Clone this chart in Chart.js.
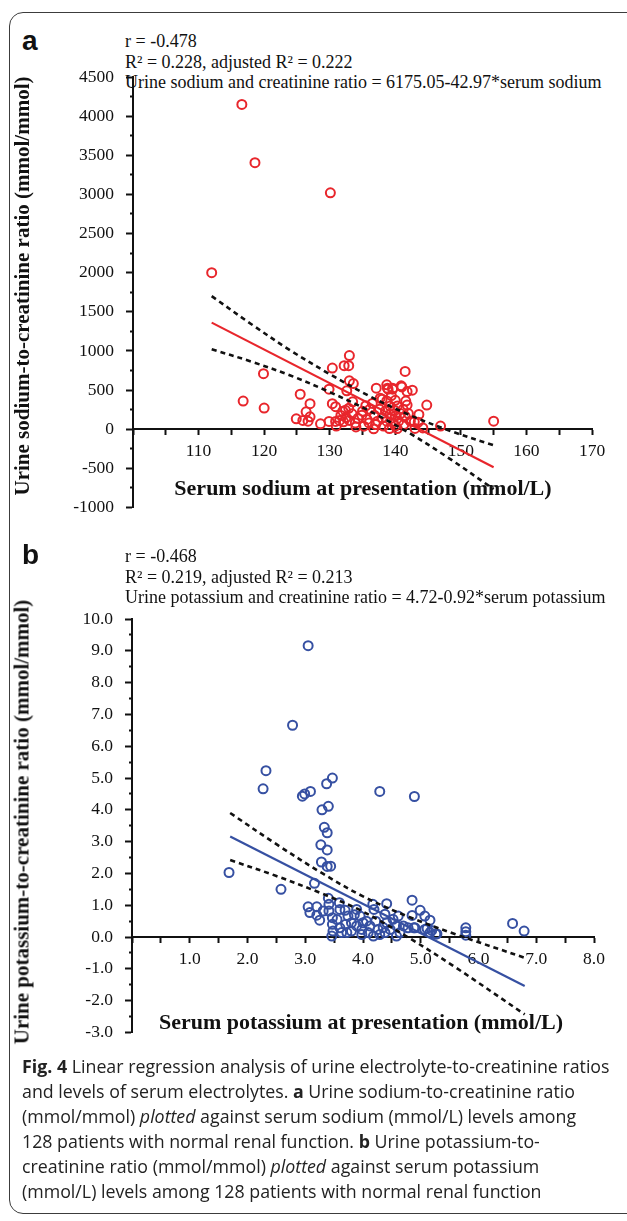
<!DOCTYPE html>
<html>
<head>
<meta charset="utf-8">
<script src="https://cdn.jsdelivr.net/npm/chart.js@4.4.1/dist/chart.umd.min.js"></script>
<style>
body { margin: 0; background: #fff; }
#fig { position: relative; width: 627px; height: 1221px; overflow: hidden; background: #fff; }
.frame { position: absolute; left: 9px; top: 12px; width: 650px; height: 1200px; border: 1.5px solid #3c3c3c; border-radius: 14px; }
.lbl { position: absolute; left: 22px; font: bold 28px "Liberation Sans", Arial, sans-serif; color: #111; }
.stats { position: absolute; left: 125px; font: 18px "Liberation Serif", serif; line-height: 20.5px; color: #111; white-space: nowrap; }
.ytitle { position: absolute; font: bold 21px "Liberation Serif", serif; color: #111; white-space: nowrap; transform: translate(-50%, -50%) rotate(-90deg); }
.xtitle { position: absolute; font: bold 22px "Liberation Serif", serif; color: #111; white-space: nowrap; transform: translate(-50%, -50%); }
canvas { position: absolute; left: 0; }
.caption { position: absolute; left: 22px; top: 1054px; font: 17.8px "Open Sans", sans-serif; line-height: 25px; color: #222; white-space: nowrap; }
</style>
</head>
<body>
<div id="fig">
  <div class="frame"></div>

  <div class="lbl" style="top:25px">a</div>
  <div class="stats" style="top:31px">r = -0.478<br>R² = 0.228, adjusted R² = 0.222<br>Urine sodium and creatinine ratio = 6175.05-42.97*serum sodium</div>
  <canvas id="chartNa" width="627" height="530" style="top:0"></canvas>
  <div class="ytitle" style="left:22px; top:286px">Urine sodium-to-creatinine ratio (mmol/mmol)</div>
  <div class="xtitle" style="left:363px; top:488px">Serum sodium at presentation (mmol/L)</div>

  <div class="lbl" style="top:539px">b</div>
  <div class="stats" style="top:546px">r = -0.468<br>R² = 0.219, adjusted R² = 0.213<br>Urine potassium and creatinine ratio = 4.72-0.92*serum potassium</div>
  <canvas id="chartK" width="627" height="525" style="top:530px"></canvas>
  <div class="ytitle" style="left:22px; top:822px">Urine potassium-to-creatinine ratio (mmol/mmol)</div>
  <div class="xtitle" style="left:361px; top:1022px">Serum potassium at presentation (mmol/L)</div>

  <div class="caption"><b>Fig. 4</b> Linear regression analysis of urine electrolyte-to-creatinine ratios<br>and levels of serum electrolytes. <b>a</b> Urine sodium-to-creatinine ratio<br>(mmol/mmol) <i>plotted</i> against serum sodium (mmol/L) levels among<br>128 patients with normal renal function. <b>b</b> Urine potassium-to-<br>creatinine ratio (mmol/mmol) <i>plotted</i> against serum potassium<br>(mmol/L) levels among 128 patients with normal renal function</div>
</div>

<script>
// Panel a: serum sodium (mmol/L) vs urine Na/Cr ratio (mmol/mmol)
const naSerum = [116.6, 118.6, 130.1, 112.0, 116.8, 119.9, 120.0, 125.5, 124.9, 125.9,
  126.4, 127.0, 127.0, 126.7, 128.6, 129.9, 129.9, 130.4, 130.4, 130.9,
  130.9, 131.7, 132.0, 132.2, 132.9, 133.0, 132.6, 133.0, 133.6, 132.4,
  132.9, 131.5, 132.1, 133.0, 133.4, 133.9, 134.9, 135.2, 135.7, 136.1,
  136.7, 137.1, 137.6, 138.0, 138.0, 137.3, 138.7, 138.9, 139.6, 138.7,
  139.2, 138.5, 140.0, 140.3, 139.2, 140.0, 138.7, 139.7, 140.5, 139.1,
  140.3, 140.9, 141.5, 141.8, 142.6, 141.2, 141.8, 141.5, 142.3, 141.3,
  143.0, 143.6, 144.2, 144.8, 142.9, 146.9, 155.0, 137.7, 138.8, 139.6,
  141.0, 135.0, 136.5, 134.3, 137.0, 139.9, 140.8, 142.0, 136.0, 134.0,
  132.5, 131.0, 138.2, 140.0, 143.5, 141.6, 139.4, 136.8, 135.5, 133.5];
const naRatio = [4150, 3406, 3020, 2000, 360, 710, 270, 447, 133, 112,
  223, 326, 159, 103, 69, 99, 511, 782, 326, 288,
  99, 176, 230, 812, 812, 941, 490, 619, 584, 241,
  267, 112, 94, 112, 197, 81, 180, 39, 125, 254,
  5, 524, 254, 383, 146, 103, 567, 511, 511, 361,
  296, 232, 370, 296, 189, 168, 103, 81, 103, 9,
  9, 554, 738, 481, 499, 254, 309, 168, 103, 60,
  10, 189, 17, 309, 94, 40, 103, 396, 524, 524,
  541, 230, 330, 140, 60, 240, 200, 200, 80, 30,
  150, 40, 40, 40, 90, 360, 430, 180, 300, 350];
const naFitX = [112, 155];
const naFitY = [1362, -485];
const naBandX = [112, 118, 124, 130, 136, 142, 148, 155];
const naBandUpper = [1700, 1345, 1007, 704, 426, 188, -10, -205];
const naBandLower = [1022, 865, 687, 474, 236, -42, -360, -765];
const naXLabels = [110, 120, 130, 140, 150, 160, 170];

// Panel b: serum potassium (mmol/L) vs urine K/Cr ratio (mmol/mmol)
const kSerum = [3.05, 2.78, 2.32, 2.27, 2.95, 2.99, 3.09, 3.37, 3.47, 3.29,
  3.40, 4.29, 4.89, 3.33, 3.38, 3.27, 3.38, 3.28, 3.38, 3.44,
  1.68, 2.58, 3.16, 4.85, 4.41, 4.17, 4.99, 5.07, 5.16, 4.85,
  4.61, 4.90, 5.11, 5.26, 5.19, 5.78, 5.78, 5.78, 6.59, 6.79,
  3.05, 3.08, 3.20, 3.25, 3.20, 3.31, 3.40, 3.41, 3.41, 3.47,
  3.59, 3.60, 3.69, 3.48, 3.47, 3.60, 3.63, 3.74, 3.80, 3.80,
  3.89, 3.95, 3.89, 3.98, 3.98, 4.06, 4.12, 4.09, 4.19, 4.22,
  4.26, 4.29, 4.38, 4.41, 4.47, 4.52, 4.58, 4.64, 4.70, 4.78,
  4.88, 5.16, 5.28, 4.18, 3.46, 3.72, 4.38, 4.58, 5.07, 3.55,
  3.85, 4.00, 4.35, 3.70];
const kRatio = [9.16, 6.66, 5.23, 4.66, 4.43, 4.50, 4.58, 4.82, 5.00, 4.00,
  4.11, 4.58, 4.42, 3.45, 3.28, 2.90, 2.74, 2.36, 2.22, 2.23,
  2.03, 1.50, 1.69, 1.16, 1.05, 1.03, 0.84, 0.66, 0.53, 0.68,
  0.66, 0.29, 0.27, 0.10, 0.21, 0.29, 0.17, 0.06, 0.43, 0.19,
  0.95, 0.77, 0.95, 0.53, 0.69, 0.82, 1.22, 1.03, 0.82, 0.61,
  1.08, 0.87, 0.84, 0.19, 0.40, 0.29, 0.14, 0.66, 0.45, 0.19,
  0.87, 0.66, 0.35, 0.24, 0.08, 0.50, 0.35, 0.14, 0.87, 0.50,
  0.24, 0.08, 0.72, 0.45, 0.24, 0.56, 0.35, 0.14, 0.35, 0.29,
  0.29, 0.14, 0.10, 0.03, 0.03, 0.14, 0.14, 0.03, 0.24, 0.55,
  0.70, 0.45, 0.30, 0.40];
const kFitX = [1.7, 6.8];
const kFitY = [3.16, -1.54];
const kBandX = [1.7, 2.5, 3.3, 4.0, 4.8, 5.6, 6.8];
const kBandUpper = [3.90, 2.92, 2.00, 1.28, 0.63, 0.09, -0.65];
const kBandLower = [2.42, 1.92, 1.36, 0.80, -0.03, -0.95, -2.43];
const kXLabels = [1, 2, 3, 4, 5, 6, 7, 8];

const RED = '#e8262c';
const BLUE = '#3650a2';
const INK = '#111';
const tickFont = { family: '"Liberation Serif", serif', size: 17.5 };

function pts(xs, ys) {
    return xs.map(function(x, i) { return { x: x, y: ys[i] }; });
}

function lineSet(xs, ys, color, dashed) {
    return {
        data: pts(xs, ys),
        showLine: true,
        borderColor: color,
        borderWidth: dashed ? 2.6 : 2.2,
        borderDash: dashed ? [5, 4] : [],
        pointRadius: 0,
        tension: dashed ? 0.35 : 0,
        order: 0
    };
}

function isMultiple(v, step) {
    const r = Math.abs(v / step - Math.round(v / step));
    return r < 1e-6;
}

// y axis takes padding of half a label + ticks.padding at the bottom, so the
// plot bottom ends ~24px above the canvas bottom
function makeChart(id, o) {
    const ctx = document.getElementById(id).getContext('2d');
    return new Chart(ctx, {
        type: 'scatter',
        data: {
            datasets: [
                lineSet(o.bandX, o.bandUpper, INK, true),
                lineSet(o.bandX, o.bandLower, INK, true),
                lineSet(o.fitX, o.fitY, o.color, false),
                {
                    data: pts(o.xs, o.ys),
                    pointStyle: 'circle',
                    pointRadius: 4.5,
                    pointBorderWidth: 2,
                    pointBorderColor: o.color,
                    pointBackgroundColor: 'rgba(0,0,0,0)',
                    order: 1
                }
            ]
        },
        options: {
            responsive: false,
            animation: false,
            devicePixelRatio: 1,
            events: [],
            layout: { padding: o.padding },
            plugins: { legend: { display: false }, tooltip: { enabled: false } },
            scales: {
                x: {
                    type: 'linear',
                    min: o.xMin, max: o.xMax,
                    position: { y: 0 },
                    afterFit: function(s) { s.height = 0; },
                    border: { display: true, color: INK, width: 2 },
                    grid: { drawOnChartArea: false, drawTicks: true, tickLength: 5, tickColor: INK, tickWidth: 2 },
                    ticks: {
                        stepSize: o.xStep, autoSkip: false, maxRotation: 0, color: INK, font: tickFont, padding: 7,
                        callback: function(v) { return o.xLabels.some(function(l) { return Math.abs(l - v) < 1e-6; }) ? o.fmtX(v) : ''; }
                    }
                },
                y: {
                    type: 'linear',
                    position: 'left',
                    min: o.yMin, max: o.yMax,
                    afterFit: function(s) { s.width = o.axisLeft; },
                    border: { display: true, color: INK, width: 2 },
                    grid: {
                        drawOnChartArea: false, drawTicks: true, tickLength: 7, tickColor: INK, tickWidth: 2,
                        tickBorderDash: function(c) { return (c.tick && isMultiple(c.tick.value, o.yMajor)) ? [] : [0, 4, 3, 100]; }
                    },
                    ticks: {
                        stepSize: o.yStep, autoSkip: false, color: INK, font: tickFont, padding: 12,
                        callback: function(v) { return isMultiple(v, o.yMajor) ? o.fmtY(v) : ''; }
                    }
                }
            }
        }
    });
}

makeChart('chartNa', {
    xs: naSerum, ys: naRatio, color: RED,
    fitX: naFitX, fitY: naFitY, bandX: naBandX, bandUpper: naBandUpper, bandLower: naBandLower,
    xMin: 100, xMax: 170, xStep: 5, xLabels: naXLabels, fmtX: function(v) { return String(v); },
    yMin: -1000, yMax: 4500, yStep: 250, yMajor: 500, fmtY: function(v) { return String(v); },
    axisLeft: 133,
    padding: { left: 0, top: 77, right: 35, bottom: 4 }
});

makeChart('chartK', {
    xs: kSerum, ys: kRatio, color: BLUE,
    fitX: kFitX, fitY: kFitY, bandX: kBandX, bandUpper: kBandUpper, bandLower: kBandLower,
    xMin: 0, xMax: 8, xStep: 0.5, xLabels: kXLabels, fmtX: function(v) { return v.toFixed(1); },
    yMin: -3, yMax: 10, yStep: 0.5, yMajor: 1, fmtY: function(v) { return v.toFixed(1); },
    axisLeft: 132,
    padding: { left: 0, top: 89, right: 33, bottom: 4 }
});
</script>
</body>
</html>
